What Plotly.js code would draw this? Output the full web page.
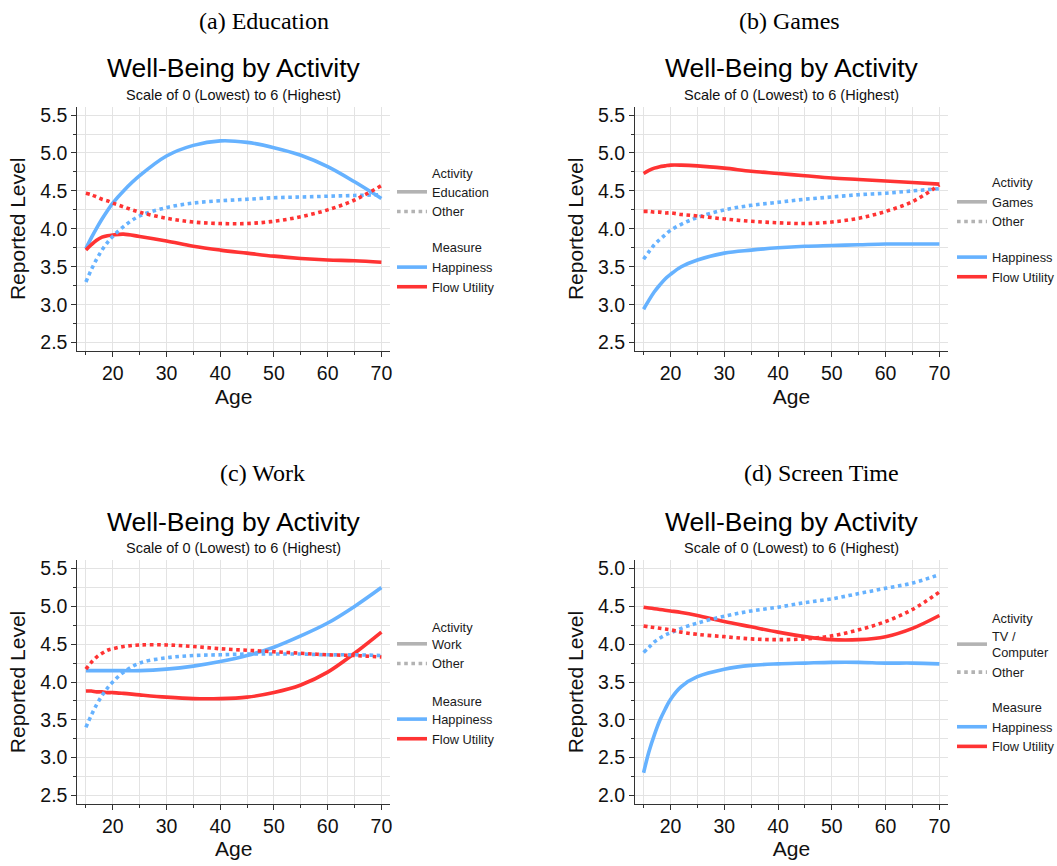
<!DOCTYPE html>
<html>
<head>
<meta charset="utf-8">
<script src="https://cdn.plot.ly/plotly-3.0.1.min.js"></script>
<style>
  html, body { margin: 0; padding: 0; background: #ffffff; }
  #chart { width: 1057px; height: 866px; }
</style>
</head>
<body>
<div id="chart"></div>
<script>
// Ages at which the fitted curves are evaluated
const ages = [15, 16, 17, 18, 19, 20, 22, 25, 30, 35, 40, 45, 50, 55, 60, 65, 70];

// (a) Education
const eduHappy      = [3.74, 3.88, 4.01, 4.13, 4.24, 4.34, 4.50, 4.70, 4.96, 5.10, 5.16, 5.14, 5.07, 4.97, 4.82, 4.62, 4.40];
const eduFlow       = [3.72, 3.79, 3.85, 3.89, 3.91, 3.92, 3.93, 3.90, 3.84, 3.77, 3.72, 3.68, 3.64, 3.61, 3.59, 3.58, 3.56];
const eduOtherHappy = [3.30, 3.46, 3.60, 3.72, 3.82, 3.90, 4.03, 4.17, 4.28, 4.34, 4.37, 4.39, 4.41, 4.42, 4.43, 4.44, 4.45];
const eduOtherFlow  = [4.47, 4.45, 4.42, 4.39, 4.37, 4.34, 4.29, 4.22, 4.14, 4.09, 4.07, 4.07, 4.10, 4.16, 4.25, 4.38, 4.57];

// (b) Games
const gameHappy      = [2.94, 3.06, 3.17, 3.26, 3.34, 3.40, 3.50, 3.59, 3.68, 3.72, 3.75, 3.77, 3.78, 3.79, 3.80, 3.80, 3.80];
const gameFlow       = [4.73, 4.77, 4.80, 4.82, 4.83, 4.84, 4.84, 4.83, 4.80, 4.76, 4.73, 4.70, 4.67, 4.65, 4.63, 4.61, 4.59];
const gameOtherHappy = [3.60, 3.70, 3.79, 3.86, 3.92, 3.98, 4.06, 4.15, 4.25, 4.31, 4.35, 4.39, 4.42, 4.45, 4.47, 4.50, 4.53];
const gameOtherFlow  = [4.23, 4.23, 4.22, 4.22, 4.21, 4.21, 4.19, 4.17, 4.13, 4.10, 4.08, 4.07, 4.09, 4.14, 4.23, 4.36, 4.58];

// (c) Work
const workHappy      = [4.15, 4.15, 4.15, 4.15, 4.15, 4.15, 4.15, 4.15, 4.17, 4.21, 4.27, 4.35, 4.46, 4.61, 4.78, 5.00, 5.25];
const workFlow       = [3.88, 3.88, 3.87, 3.87, 3.86, 3.86, 3.85, 3.83, 3.80, 3.78, 3.78, 3.80, 3.86, 3.96, 4.13, 4.38, 4.66];
const workOtherHappy = [3.40, 3.56, 3.70, 3.82, 3.92, 4.00, 4.13, 4.25, 4.32, 4.35, 4.36, 4.37, 4.37, 4.37, 4.36, 4.36, 4.35];
const workOtherFlow  = [4.17, 4.26, 4.33, 4.38, 4.42, 4.44, 4.47, 4.49, 4.49, 4.47, 4.44, 4.42, 4.40, 4.38, 4.36, 4.35, 4.33];

// (d) Screen Time
const tvHappy      = [2.30, 2.58, 2.80, 2.99, 3.14, 3.27, 3.44, 3.57, 3.67, 3.72, 3.74, 3.75, 3.76, 3.76, 3.75, 3.75, 3.74];
const tvFlow       = [4.49, 4.48, 4.47, 4.46, 4.45, 4.44, 4.42, 4.38, 4.30, 4.23, 4.16, 4.10, 4.06, 4.06, 4.10, 4.21, 4.38];
const tvOtherHappy = [3.89, 3.96, 4.03, 4.08, 4.12, 4.15, 4.21, 4.28, 4.37, 4.44, 4.49, 4.55, 4.60, 4.67, 4.74, 4.81, 4.92];
const tvOtherFlow  = [4.24, 4.23, 4.22, 4.21, 4.20, 4.19, 4.16, 4.13, 4.10, 4.07, 4.06, 4.07, 4.11, 4.19, 4.30, 4.46, 4.69];

// Labels
const captions = ['(a) Education', '(b) Games', '(c) Work', '(d) Screen Time'];
const activityNames = ['Education', 'Games', 'Work', 'TV /<br>Computer'];
const otherName = 'Other';
const measureNames = ['Happiness', 'Flow Utility'];
const chartTitle = 'Well-Being by Activity';
const chartSubtitle = 'Scale of 0 (Lowest) to 6 (Highest)';
const yTitle = 'Reported Level';
const xTitle = 'Age';

const W = 1057, H = 866;
const BLUE = '#66b2ff', RED = '#ff3333', GREY = '#b3b3b3';
const SANS = 'Liberation Sans, Arial, Helvetica, sans-serif';
const SERIF = 'Liberation Serif, Times New Roman, serif';
const LW = 3.6;
const LEGEND_FONT = 12.8;

const px = v => v / W;          // horizontal pixel -> paper
const py = v => 1 - v / H;      // vertical pixel (from top) -> paper

const panels = [
  { happy: eduHappy,  flow: eduFlow,  oHappy: eduOtherHappy,  oFlow: eduOtherFlow },
  { happy: gameHappy, flow: gameFlow, oHappy: gameOtherHappy, oFlow: gameOtherFlow },
  { happy: workHappy, flow: workFlow, oHappy: workOtherHappy, oFlow: workOtherFlow },
  { happy: tvHappy,   flow: tvFlow,   oHappy: tvOtherHappy,   oFlow: tvOtherFlow }
];

// Pixel frames of the four plotting panels
const frames = [
  { l: 77.3, r: 390, t: 106.7, b: 351 },
  { l: 635,  r: 948, t: 106.7, b: 351 },
  { l: 77.3, r: 390, t: 560.3, b: 803.7 },
  { l: 635,  r: 948, t: 560.3, b: 803.7 }
];
const yRanges = [[2.39, 5.61], [2.39, 5.61], [2.39, 5.61], [1.89, 5.11]];
const yTick0 = [2.5, 2.5, 2.5, 2.0];

// Legend placement (pixel positions of the text column and first entry)
const legendPos = [
  { textX: 432, top: 177, gap: 36, activityY: 173, measureY: 247 },
  { textX: 992, top: 187, gap: 16, activityY: 183, measureY: null },
  { textX: 432, top: 629, gap: 36, activityY: 627, measureY: 701 },
  { textX: 992, top: 621, gap: 35, activityY: 618, measureY: 707 }
];
const captionPos = [ { x: 264, y: 21 }, { x: 789, y: 21 }, { x: 262, y: 473 }, { x: 821.5, y: 473 } ];

const traces = [];
const layout = {
  width: W, height: H,
  margin: { l: 0, r: 0, t: 0, b: 0, autoexpand: false },
  paper_bgcolor: '#ffffff', plot_bgcolor: '#ffffff',
  font: { family: SANS, color: '#111111' },
  annotations: [],
  showlegend: true
};

const gridCol = '#e3e3e3';
const axisCol = '#333333';

panels.forEach((p, i) => {
  const n = i + 1;
  const sfx = n === 1 ? '' : String(n);
  const xa = 'x' + sfx, ya = 'y' + sfx;
  const legendId = n === 1 ? 'legend' : 'legend' + n;
  const f = frames[i];

  // Grey legend keys for the line type (activity vs other)
  traces.push({
    x: [null], y: [null], xaxis: xa, yaxis: ya, type: 'scatter', mode: 'lines',
    name: activityNames[i], legend: legendId, legendgroup: 'activity',
    line: { color: GREY, width: LW, dash: 'solid' }, hoverinfo: 'skip'
  });
  traces.push({
    x: [null], y: [null], xaxis: xa, yaxis: ya, type: 'scatter', mode: 'lines',
    name: otherName, legend: legendId, legendgroup: 'activity',
    line: { color: GREY, width: LW, dash: 'dot' }, hoverinfo: 'skip'
  });

  // Solid = the activity itself, dotted = other activities
  const series = [
    { y: p.happy,  color: BLUE, dash: 'solid', name: measureNames[0], show: true },
    { y: p.flow,   color: RED,  dash: 'solid', name: measureNames[1], show: true },
    { y: p.oHappy, color: BLUE, dash: 'dot',   name: measureNames[0], show: false },
    { y: p.oFlow,  color: RED,  dash: 'dot',   name: measureNames[1], show: false }
  ];
  series.forEach(s => {
    traces.push({
      x: ages, y: s.y, xaxis: xa, yaxis: ya, type: 'scatter', mode: 'lines',
      name: s.name, legend: legendId, legendgroup: 'measure', showlegend: s.show,
      line: { color: s.color, width: LW, dash: s.dash, shape: 'spline', smoothing: 1 },
      hoverinfo: 'x+y'
    });
  });

  layout['xaxis' + sfx] = {
    domain: [px(f.l), px(f.r)], anchor: ya, range: [13.4, 71.6],
    tickmode: 'linear', tick0: 0, dtick: 10,
    ticks: 'outside', ticklen: 5, tickwidth: 1, tickcolor: axisCol,
    showline: true, linecolor: axisCol, linewidth: 1, mirror: false,
    showgrid: true, gridcolor: gridCol, gridwidth: 1, zeroline: false,
    minor: { tick0: 0, dtick: 5, ticks: 'outside', ticklen: 3, tickwidth: 1, tickcolor: axisCol,
             showgrid: true, gridcolor: gridCol, gridwidth: 1 },
    tickfont: { family: SANS, size: 19.5, color: '#111111' },
    title: { text: xTitle, font: { family: SANS, size: 21, color: '#111111' }, standoff: 5 },
    fixedrange: true
  };
  layout['yaxis' + sfx] = {
    domain: [py(f.b), py(f.t)], anchor: xa, range: yRanges[i],
    tickmode: 'linear', tick0: yTick0[i], dtick: 0.5, tickformat: '.1f',
    ticks: 'outside', ticklen: 5, tickwidth: 1, tickcolor: axisCol,
    showline: true, linecolor: axisCol, linewidth: 1, mirror: false,
    showgrid: true, gridcolor: gridCol, gridwidth: 1, zeroline: false,
    minor: { tick0: yTick0[i], dtick: 0.25, ticks: 'outside', ticklen: 3, tickwidth: 1, tickcolor: axisCol,
             showgrid: true, gridcolor: gridCol, gridwidth: 1 },
    tickfont: { family: SANS, size: 19.5, color: '#111111' },
    title: { text: yTitle, font: { family: SANS, size: 21, color: '#111111' }, standoff: 8 },
    fixedrange: true
  };

  const lp = legendPos[i];
  layout[legendId] = {
    x: px(lp.textX - 40), y: py(lp.top), xref: 'paper', yref: 'paper',
    xanchor: 'left', yanchor: 'top', orientation: 'v',
    traceorder: 'grouped', tracegroupgap: lp.gap,
    bgcolor: 'rgba(0,0,0,0)', borderwidth: 0,
    font: { family: SANS, size: LEGEND_FONT, color: '#1a1a1a' },
    itemclick: false, itemdoubleclick: false
  };

  const cx = (f.l + f.r) / 2;
  const ann = layout.annotations;
  ann.push({ text: chartTitle, x: px(cx), y: py(f.t - 38.5), xref: 'paper', yref: 'paper',
             xanchor: 'center', yanchor: 'middle', showarrow: false,
             font: { family: SANS, size: 26.5, color: '#000000' } });
  ann.push({ text: chartSubtitle, x: px(cx), y: py(f.t - 12), xref: 'paper', yref: 'paper',
             xanchor: 'center', yanchor: 'middle', showarrow: false,
             font: { family: SANS, size: 14.5, color: '#111111' } });
  ann.push({ text: 'Activity', x: px(lp.textX - 2), y: py(lp.activityY), xref: 'paper', yref: 'paper',
             xanchor: 'left', yanchor: 'middle', showarrow: false,
             font: { family: SANS, size: LEGEND_FONT, color: '#1a1a1a' } });
  if (lp.measureY !== null) {
    ann.push({ text: 'Measure', x: px(lp.textX - 2), y: py(lp.measureY), xref: 'paper', yref: 'paper',
               xanchor: 'left', yanchor: 'middle', showarrow: false,
               font: { family: SANS, size: LEGEND_FONT, color: '#1a1a1a' } });
  }
  const cp = captionPos[i];
  ann.push({ text: captions[i], x: px(cp.x), y: py(cp.y), xref: 'paper', yref: 'paper',
             xanchor: 'center', yanchor: 'middle', showarrow: false,
             font: { family: SERIF, size: 24, color: '#000000' } });
});

Plotly.newPlot('chart', traces, layout, { displayModeBar: false, staticPlot: true });
</script>
</body>
</html>
